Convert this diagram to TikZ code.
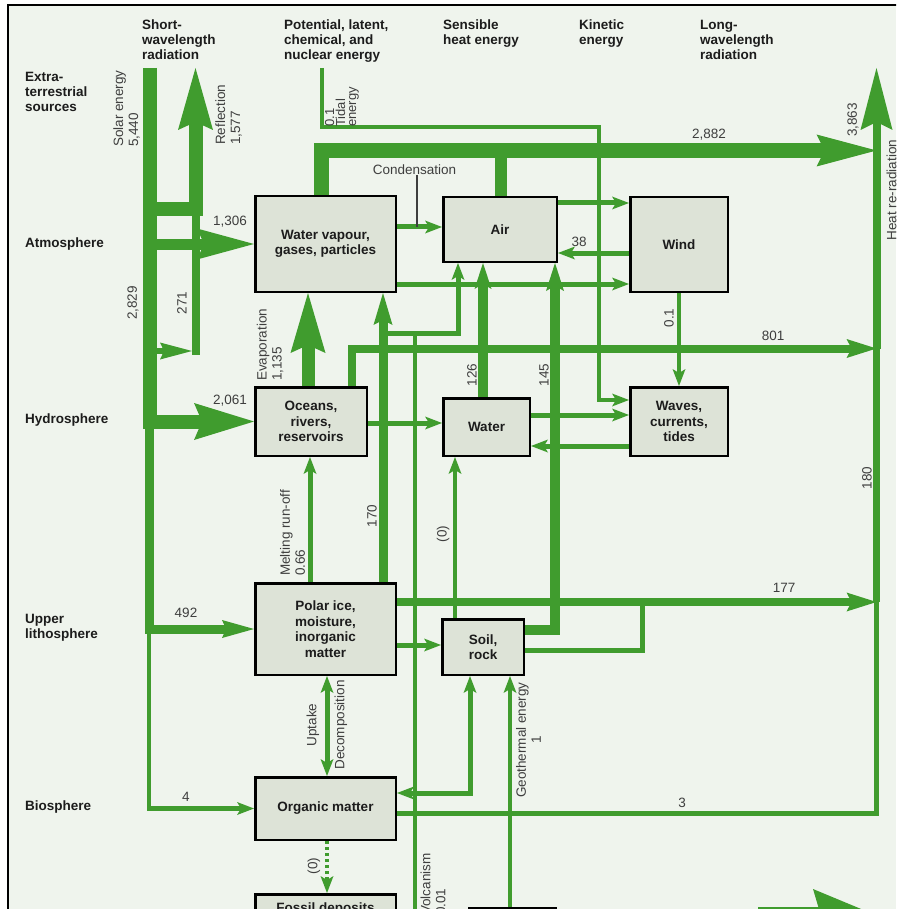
\documentclass[tikz,border=0pt]{standalone}
\usepackage{fontspec}
\setmainfont{Liberation Sans}
\usetikzlibrary{arrows.meta}
\definecolor{flowgreen}{RGB}{64,156,46}
\definecolor{paper}{RGB}{239,244,237}
\definecolor{boxfill}{RGB}{221,227,215}
\definecolor{ink}{RGB}{28,28,28}
\definecolor{numink}{RGB}{62,62,62}
\newcommand\boldlab{\bfseries\fontsize{13.5}{15}\selectfont}
\newcommand\boxlab{\bfseries\fontsize{13.5}{15.5}\selectfont}
\newcommand\numlab{\fontsize{13.5}{15}\selectfont}
\newcommand\tightlab{\fontsize{13}{11}\selectfont}

\begin{document}
\begin{tikzpicture}[x=1pt,y=-1pt,
  box/.style={draw=black, line width=2.5pt, fill=boxfill, inner sep=0pt,
    align=center, font=\boxlab, text=ink},
  flow/.style={draw=flowgreen},
  hdr/.style={anchor=north west, align=left, inner sep=0pt, font=\boldlab, text=ink},
  rowlab/.style={anchor=west, align=left, inner sep=0pt, font=\boldlab, text=ink},
  num/.style={inner sep=0pt, font=\numlab, text=numink},
  vnum/.style={num, rotate=90},
  vlab/.style={num, rotate=90, anchor=west, align=left},
  arr/.style n args={3}{-{Stealth[length=#1,width=#2,inset=#3,line width=0pt]}},
  sarrow/.style={-{Stealth[length=17pt,width=13pt,inset=4pt,line width=0pt]}},
  darrow/.style={{Stealth[length=17pt,width=13pt,inset=4pt,line width=0pt]}-{Stealth[length=17pt,width=13pt,inset=4pt,line width=0pt]}}
]
\useasboundingbox (0,0) rectangle (896,909);
\clip (0,0) rectangle (896,909);
\fill[white] (0,0) rectangle (896,909);
\fill[paper] (8,5) rectangle (896,909);
\draw[black, line width=2.5pt] (8,912) -- (8,5) -- (898,5);

% ---------- column and row headings ----------
\node[hdr] (hshort) at (142,20) {Short-\\wavelength\\radiation};
\node[hdr] (hpot) at (284,20) {Potential, latent,\\chemical, and\\nuclear energy};
\node[hdr] (hsens) at (443,20) {Sensible\\heat energy};
\node[hdr] (hkin) at (579,20) {Kinetic\\energy};
\node[hdr] (hlong) at (700,20) {Long-\\wavelength\\radiation};

\node[hdr] (rextra) at (25,72) {Extra-\\terrestrial\\sources};
\node[rowlab] (ratmo) at (25,244) {Atmosphere};
\node[rowlab] (rhydro) at (25,420) {Hydrosphere};
\node[hdr] (rlitho) at (25,614) {Upper\\lithosphere};
\node[rowlab] (rbio) at (25,807) {Biosphere};

% ---------- reservoirs ----------
\node[box, minimum width=140.5pt, minimum height=95.5pt] (wv) at (325.5,244) {Water vapour,\\gases, particles};
\node[box, minimum width=113.5pt, minimum height=64.5pt] (air) at (500,229.5) {Air};
\node[box, minimum width=97.5pt, minimum height=94.5pt] (wind) at (679,244.5) {Wind};
\node[box, minimum width=111.5pt, minimum height=68.5pt] (ocean) at (311,421.5) {Oceans,\\rivers,\\reservoirs};
\node[box, minimum width=86.5pt, minimum height=57.5pt] (water) at (486.5,427) {Water};
\node[box, minimum width=97.5pt, minimum height=68.5pt] (waves) at (679,421.5) {Waves,\\currents,\\tides};
\node[box, minimum width=140.5pt, minimum height=91.5pt] (polar) at (325.5,629) {Polar ice,\\moisture,\\inorganic\\matter};
\node[box, minimum width=81.5pt, minimum height=55.5pt] (soil) at (483,647) {Soil,\\rock};
\node[box, minimum width=140.5pt, minimum height=62.5pt] (organic) at (325.5,808.5) {Organic matter};
\node[box, minimum width=140.5pt, minimum height=64.5pt] (fossil) at (325.5,926.5) {};
\node[anchor=base, inner sep=0pt, font=\boxlab, text=ink] (fossiltxt) at (325.5,912.5) {Fossil deposits};
\node[box, minimum width=86.5pt, minimum height=65.5pt] (geo) at (512.5,941) {};

% ---------- free ends and junctions ----------
\coordinate (solartop) at (150,68);
\coordinate (refltip) at (195.5,68);
\coordinate (reflj) at (150,209.5);
\coordinate (atmoj) at (150,244);
\coordinate (r271top) at (196,209.5);
\coordinate (r271bot) at (196,355);
\coordinate (a271s) at (150,351);
\coordinate (a271e) at (192,351);
\coordinate (hydroj) at (149,421);
\coordinate (lithoj) at (149,629);
\coordinate (tidaltop) at (322,68);
\coordinate (tidalbend) at (599,127);
\coordinate (heattip) at (876.5,68);
\coordinate (heatj) at (876.5,150.5);
\coordinate (heat801) at (876.5,348.5);
\coordinate (heat177) at (876.5,602);
\coordinate (airstub) at (501,150.5);
\coordinate (condj) at (417,227);
\coordinate (soilj) at (642,602);
\coordinate (j333) at (383,333);
\coordinate (volcbase) at (415,915);
\coordinate (volctop) at (415,333);
\coordinate (outs) at (758,916);
\coordinate (oute) at (878,916);

% ---------- short-wavelength radiation ----------
\draw[flow, line width=14pt, arr={60pt}{37pt}{8pt}] (solartop) |- (ocean.west);
\draw[flow, line width=9pt, arr={32pt}{18pt}{4pt}] (hydroj) |- (polar.west);
\draw[flow, line width=4.5pt, sarrow] (lithoj) |- (organic.west);
\draw[flow, line width=14pt, arr={62pt}{35pt}{8pt}] (reflj) -| (refltip);
\draw[flow, line width=8pt] (r271top) -- (r271bot);
\draw[flow, line width=6pt, arr={32pt}{17pt}{4pt}] (a271s) -- (a271e);
\draw[flow, line width=11pt, arr={57pt}{31pt}{7pt}] (atmoj) -- (wv.west);

% ---------- tidal energy ----------
\draw[flow, line width=4pt, sarrow] (tidaltop) |- (tidalbend) |- (waves.west |- 0,400);

% ---------- condensation and heat re-radiation ----------
\draw[flow, line width=15pt, arr={60pt}{32pt}{8pt}] (wv.north -| 321,0) |- (heatj);
\draw[flow, line width=12pt] (air.north -| 501,0) -- (airstub);
\draw[flow, line width=8pt, arr={62pt}{32pt}{8pt}] (heat801) -- (heattip);
\draw[flow, line width=7pt] (heat177) -- (heat801);
\draw[flow, line width=5pt] (organic.east |- 0,813) -| (heat177);

% ---------- atmosphere ----------
\draw[flow, line width=5pt, sarrow] (wv.east |- 0,227) -- (air.west |- 0,227);
\node[num] (condlab) at (414.5,170) {Condensation};
\draw[numink, line width=1.6pt] (condlab.south -| condj) -- (condj);
\draw[flow, line width=5pt, sarrow] (air.east |- 0,203) -- (wind.west |- 0,203);
\draw[flow, line width=5pt, sarrow] (wind.west |- 0,253) -- (air.east |- 0,253);
\draw[flow, line width=5pt, sarrow] (wv.east |- 0,284) -- (wind.west |- 0,284);
\draw[flow, line width=4pt, sarrow] (wind.south) -- (waves.north);

% ---------- hydrosphere ----------
\draw[flow, line width=8pt, arr={30pt}{19pt}{5pt}] (ocean.north -| 352,0) |- (heat801);
\draw[flow, line width=13pt, arr={60pt}{35pt}{8pt}] (ocean.north -| 308,0) -- (wv.south -| 308,0);
\draw[flow, line width=5pt, sarrow] (ocean.east |- 0,423) -- (water.west |- 0,423);
\draw[flow, line width=5pt, sarrow] (water.east |- 0,415) -- (waves.west |- 0,415);
\draw[flow, line width=5pt, sarrow] (waves.west |- 0,446) -- (water.east |- 0,446);
\draw[flow, line width=10pt, arr={26pt}{17pt}{5pt}] (water.north -| 483,0) -- (air.south -| 483,0);

% ---------- upper lithosphere ----------
\draw[flow, line width=9pt, arr={32pt}{19pt}{5pt}] (polar.north -| 383,0) -- (wv.south -| 383,0);
\draw[flow, line width=4pt] (volcbase) -- (volctop);
\draw[flow, line width=5pt, sarrow] (j333) -| (air.south -| 458,0);
\draw[flow, line width=5pt, sarrow] (polar.north -| 310,0) -- (ocean.south -| 310,0);
\draw[flow, line width=8pt, arr={30pt}{19pt}{5pt}] (polar.east |- 0,602) -- (heat177);
\draw[flow, line width=5pt] (soil.east |- 0,650) -| (soilj);
\draw[flow, line width=10pt, arr={28pt}{18pt}{5pt}] (soil.east |- 0,630) -| (air.south -| 555,0);
\draw[flow, line width=4pt, sarrow] (soil.north -| 455,0) -- (water.south -| 455,0);
\draw[flow, line width=5pt, sarrow] (polar.east |- 0,645) -- (soil.west |- 0,645);

% ---------- biosphere ----------
\draw[flow, line width=5pt, darrow] (polar.south -| 327,0) -- (organic.north -| 327,0);
\draw[flow, line width=4pt, dash pattern=on 3pt off 3pt, sarrow] (organic.south -| 327,0) -- (fossil.north -| 327,0);
\draw[flow, line width=5pt, darrow] (organic.east |- 0,793) -| (soil.south -| 470,0);
\draw[flow, line width=4pt, sarrow] (geo.north -| 510,0) -- (soil.south -| 510,0);
\draw[flow, line width=18pt, arr={65pt}{54pt}{8pt}] (outs) -- (oute);

% ---------- flow labels ----------
\node[vlab] (lsolar) at (126.5,147) {Solar energy\\5,440};
\node[vlab] (lrefl) at (228.5,145) {Reflection\\1,577};
\node[vlab, font=\tightlab] (ltidal) at (342,127) {0.1\\Tidal\\energy};
\node[vnum] (l2829) at (133,303) {2,829};
\node[vnum] (l271) at (182,303) {271};
\node[num] (l1306) at (230,222) {1,306};
\node[num] (l2061) at (230,401) {2,061};
\node[num] (l492) at (186,613) {492};
\node[num] (l4) at (186,797) {4};
\node[num] (l2882) at (709,135) {2,882};
\node[vnum] (l3863) at (853,120) {3,863};
\node[vnum] (lheat) at (891.5,190) {Heat re-radiation};
\node[num] (l38) at (579,242) {38};
\node[vnum] (lwind) at (669,318) {0.1};
\node[num] (l801) at (773,336) {801};
\node[vlab] (levap) at (270,381) {Evaporation\\1,135};
\node[vnum] (l126) at (472,375) {126};
\node[vnum] (l145) at (544,375) {145};
\node[vnum] (l180) at (867,478) {180};
\node[vlab] (lmelt) at (292.5,576) {Melting run-off\\0.66};
\node[vnum] (l170) at (372,516) {170};
\node[vnum] (lsoilw) at (443,534) {(0)};
\node[num] (l177) at (784,588) {177};
\node[vnum] (lup) at (313,725) {Uptake};
\node[vnum] (ldec) at (341,725) {Decomposition};
\node[num, rotate=90, align=center] (lgeo) at (528.5,740) {Geothermal energy\\1};
\node[num] (l3) at (682,803) {3};
\node[vnum] (lfos) at (314,866) {(0)};
\node[vlab] (lvolc) at (433,915) {Volcanism\\0.01};
\end{tikzpicture}
\end{document}
